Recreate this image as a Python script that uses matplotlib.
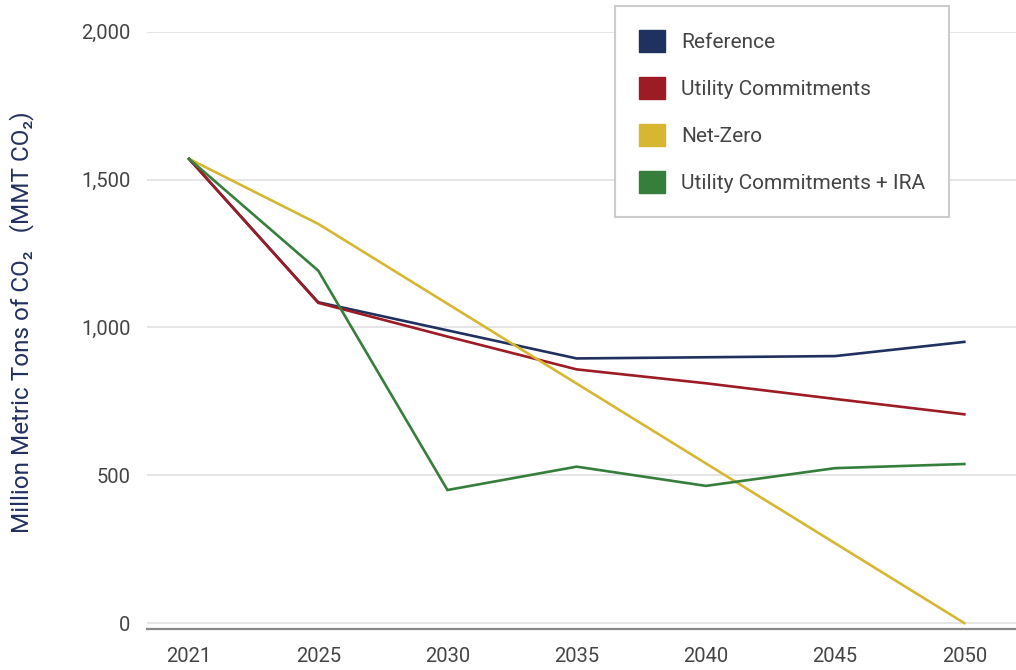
import matplotlib
matplotlib.use("Agg")
import matplotlib.pyplot as plt
from matplotlib.patches import Patch

plt.rcParams['font.family'] = ['Roboto', 'DejaVu Sans']

years = ["2021", "2025", "2030", "2035", "2040", "2045", "2050"]
reference = [1570, 1085, 990, 895, 899, 903, 951]
utility = [1570, 1083, 969, 858, 811, 758, 706]
net_zero = [1570, 1350, 1080, 810, 540, 270, 0]
utility_ira = [1570, 1192, 450, 529, 464, 524, 538]

names = ["Reference", "Utility Commitments", "Net-Zero", "Utility Commitments + IRA"]
colors = ["#21315f", "#9c1b24", "#d7b631", "#367e3b"]
series = [reference, utility, net_zero, utility_ira]

fig = plt.figure(figsize=(10.16, 6.70), dpi=100)
ax = fig.add_axes([147/1016, 1-629/670, 869/1016, (629-31.7)/670])

x = list(range(len(years)))
for vals, c in zip(series, colors):
    ax.plot(x, vals, color=c, lw=1.9, solid_joinstyle="miter", zorder=3)

ax.set_xlim(-0.325, 6.40)
ax.set_ylim(-20, 2000)
ax.set_xticks(x)
ax.set_xticklabels(years)
ax.set_yticks([0, 500, 1000, 1500, 2000])
ax.set_yticklabels(["0", "500", "1,000", "1,500", "2,000"])
ax.tick_params(axis="both", length=0, labelsize=14.5, labelcolor="#444444")
ax.tick_params(axis="x", pad=13)
ax.tick_params(axis="y", pad=12)

ax.grid(axis="y", color="#e0e0e0", lw=1.2)
ax.set_axisbelow(True)
for s in ["top", "right", "left"]:
    ax.spines[s].set_visible(False)
ax.spines["bottom"].set_color("#888888")
ax.spines["bottom"].set_linewidth(1.6)

fig.text(22/1016, 1-322/670, "Million Metric Tons of CO\u2082   (MMT CO\u2082)",
         rotation=90, ha="center", va="center", fontsize=17.5, color="#22315f")

handles = [Patch(facecolor=c, edgecolor=c) for c in colors]
leg = fig.legend(handles, names, loc="upper left",
                 bbox_to_anchor=(615/1016, 1-6/670), bbox_transform=fig.transFigure,
                 borderaxespad=0, fontsize=15, frameon=True, fancybox=False,
                 framealpha=1, edgecolor="#cccccc", handlelength=1.25,
                 handleheight=1.25, labelspacing=1.2, handletextpad=0.78,
                 borderpad=1.15)
leg.get_frame().set_linewidth(1.5)
for t in leg.get_texts():
    t.set_color("#444444")

fig.savefig("out.png", dpi=100)
